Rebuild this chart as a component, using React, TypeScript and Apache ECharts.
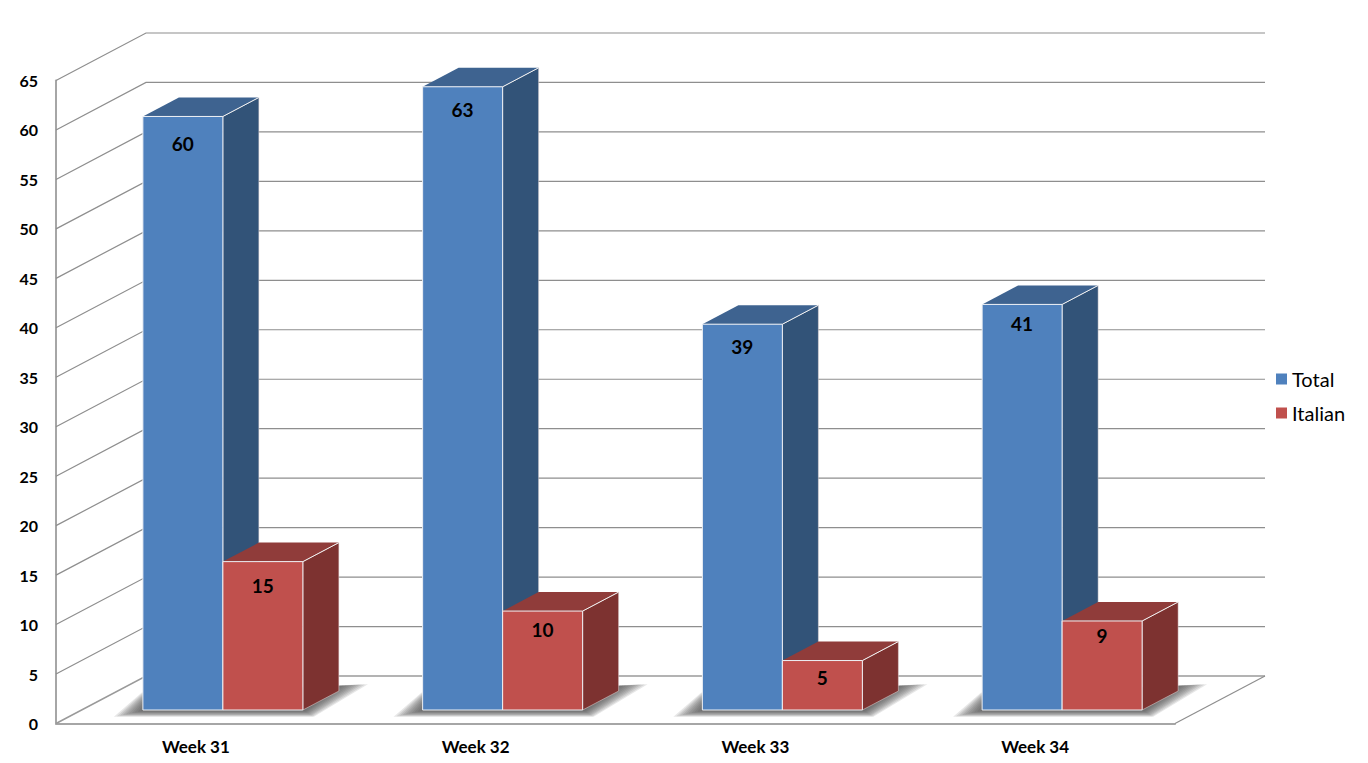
import React, { useEffect, useRef } from "react";
import * as echarts from "echarts";

const categories = ["Week 31", "Week 32", "Week 33", "Week 34"];
const totalValues = [60, 63, 39, 41];
const italianValues = [15, 10, 5, 9];
const yTicks = [0, 5, 10, 15, 20, 25, 30, 35, 40, 45, 50, 55, 60, 65];

// label distance below each bar's top edge, as placed in the reference
const totalLabelDrop = [28, 23, 23, 20];
const italianLabelDrop = [24, 19, 17, 15];

const WALL_DX = 90;
const WALL_DY = 47.5;
const BAR_DX = 27; // offset of the bar plane from the axis plane
const BAR_DY = 13.5;
const BAR_W = 80;
const SIDE_DX = 36;
const SIDE_DY = 19;
const FONT = "Lato, 'Noto Sans', sans-serif";
const SHADOW_LAYERS = [9, 8, 7, 6, 5, 4, 3, 2, 1, 0];

function barRenderer(
  front: string,
  side: string,
  top: string,
  seriesOffset: number,
  labelDrop: number[]
) {
  return (_params: any, api: any) => {
    const idx = api.value(0);
    const value = api.value(1);
    const base = api.coord([idx, 0]);
    const head = api.coord([idx, value]);
    const x0 = base[0] + BAR_DX - BAR_W + seriesOffset;
    const x1 = x0 + BAR_W;
    const yb = base[1] - BAR_DY;
    const yt = head[1] - BAR_DY;
    return {
      type: "group",
      children: [
        {
          type: "polygon",
          shape: {
            points: [
              [x1, yt],
              [x1 + SIDE_DX, yt - SIDE_DY],
              [x1 + SIDE_DX, yb - SIDE_DY],
              [x1, yb],
            ],
          },
          style: { fill: side, stroke: "#e4d9d9", lineWidth: 0.5 },
        },
        {
          type: "polygon",
          shape: {
            points: [
              [x0, yt],
              [x0 + SIDE_DX, yt - SIDE_DY],
              [x1 + SIDE_DX, yt - SIDE_DY],
              [x1, yt],
            ],
          },
          style: { fill: top },
        },
        {
          type: "line",
          shape: { x1, y1: yt, x2: x1 + SIDE_DX, y2: yt - SIDE_DY },
          style: { stroke: "#f2f2f2", lineWidth: 1 },
        },
        {
          type: "rect",
          shape: { x: x0, y: yt, width: BAR_W, height: yb - yt },
          style: { fill: front, stroke: "#eef0f4", lineWidth: 1 },
        },
        {
          type: "text",
          style: {
            text: String(value),
            x: x0 + BAR_W / 2,
            y: yt + labelDrop[idx] - 0.5,
            textAlign: "center",
            textVerticalAlign: "middle",
            font: `bold 19px ${FONT}`,
            fill: "#000000",
          },
        },
      ],
    };
  };
}

function wallRenderer(params: any, api: any) {
  const value = api.value(0);
  const cs = params.coordSys;
  const y = api.coord([0, value])[1];
  const isFloor = value === 0;
  return {
    type: "polyline",
    shape: {
      points: [
        [cs.x, y],
        [cs.x + WALL_DX, y - WALL_DY],
        [cs.x + cs.width + WALL_DX, y - WALL_DY],
      ],
    },
    style: {
      fill: "none",
      stroke: isFloor ? "#9a9a9a" : "#8e8e8e",
      lineWidth: isFloor ? 1.5 : 1.2,
    },
  };
}

function floorEdgeRenderer(params: any, api: any) {
  const cs = params.coordSys;
  const y = api.coord([0, 0])[1];
  return {
    type: "line",
    shape: {
      x1: cs.x + cs.width,
      y1: y,
      x2: cs.x + cs.width + WALL_DX,
      y2: y - WALL_DY,
    },
    style: { stroke: "#8e8e8e", lineWidth: 1.2 },
  };
}

function shadowRenderer(_params: any, api: any) {
  const idx = api.value(0);
  const base = api.coord([idx, 0]);
  const x0 = base[0] + BAR_DX - BAR_W;
  const x1 = x0 + BAR_W * 2;
  const yb = base[1] - BAR_DY;
  return {
    type: "group",
    children: SHADOW_LAYERS.map((e) => ({
      type: "polygon",
      shape: {
        points: [
          [x0 - 2 - e * 3, yb + 1 + e * 0.65],
          [x0 + 8 - e, yb - 14 - e * 0.4],
          [x1 + SIDE_DX + 2 + e * 3, yb - 24 - e * 0.2],
          [x1 + 2 + e, yb + 1 + e * 0.65],
        ],
      },
      style: { fill: "rgba(70,70,70,0.13)" },
    })),
  };
}

export default function App() {
  const ref = useRef<HTMLDivElement>(null);

  useEffect(() => {
    document.body.style.margin = "0";
    document.body.style.overflow = "hidden";
    const chart = echarts.init(ref.current!, null, { renderer: "svg" });
    chart.setOption({
      animation: false,
      backgroundColor: "#ffffff",
      grid: { left: 56, top: 80.5, width: 1119, height: 643, containLabel: false },
      legend: {
        data: ["Total", "Italian"],
        orient: "vertical",
        left: 1276,
        top: 369,
        padding: 0,
        itemWidth: 11,
        itemHeight: 11,
        itemGap: 14,
        icon: "rect",
        selectedMode: false,
        textStyle: { fontFamily: FONT, fontSize: 20, color: "#000000" },
      },
      xAxis: {
        type: "category",
        data: categories,
        axisLine: { show: true, lineStyle: { color: "#a6a6a6", width: 2 } },
        axisTick: { show: false },
        axisLabel: {
          margin: 14,
          fontFamily: FONT,
          fontWeight: "bold",
          fontSize: 17,
          color: "#000000",
        },
      },
      yAxis: {
        type: "value",
        min: 0,
        max: 65,
        interval: 5,
        axisLine: { show: true, lineStyle: { color: "#a6a6a6", width: 2 } },
        axisTick: { show: false },
        splitLine: { show: false },
        axisLabel: {
          margin: 18,
          fontFamily: FONT,
          fontWeight: "bold",
          fontSize: 16,
          color: "#000000",
        },
      },
      series: [
        {
          type: "custom",
          name: "wall",
          silent: true,
          clip: false,
          data: yTicks.map((v) => [v]),
          encode: { y: 0 },
          renderItem: wallRenderer,
        },
        {
          type: "custom",
          name: "floor",
          silent: true,
          clip: false,
          data: [[0]],
          encode: { y: 0 },
          renderItem: floorEdgeRenderer,
        },
        {
          type: "custom",
          name: "shadow",
          silent: true,
          clip: false,
          data: categories.map((_, i) => [i, 0]),
          encode: { x: 0, y: 1 },
          renderItem: shadowRenderer,
        },
        {
          type: "custom",
          name: "Total",
          silent: true,
          clip: false,
          itemStyle: { color: "#4f81bd" },
          data: totalValues.map((v, i) => [i, v]),
          encode: { x: 0, y: 1 },
          renderItem: barRenderer("#4f81bd", "#325378", "#3e6390", 0, totalLabelDrop),
        },
        {
          type: "custom",
          name: "Italian",
          silent: true,
          clip: false,
          itemStyle: { color: "#c0504d" },
          data: italianValues.map((v, i) => [i, v]),
          encode: { x: 0, y: 1 },
          renderItem: barRenderer("#c0504d", "#7d3230", "#903c3a", BAR_W, italianLabelDrop),
        },
      ],
    });
    return () => chart.dispose();
  }, []);

  return <div ref={ref} style={{ width: 1368, height: 763 }} />;
}
